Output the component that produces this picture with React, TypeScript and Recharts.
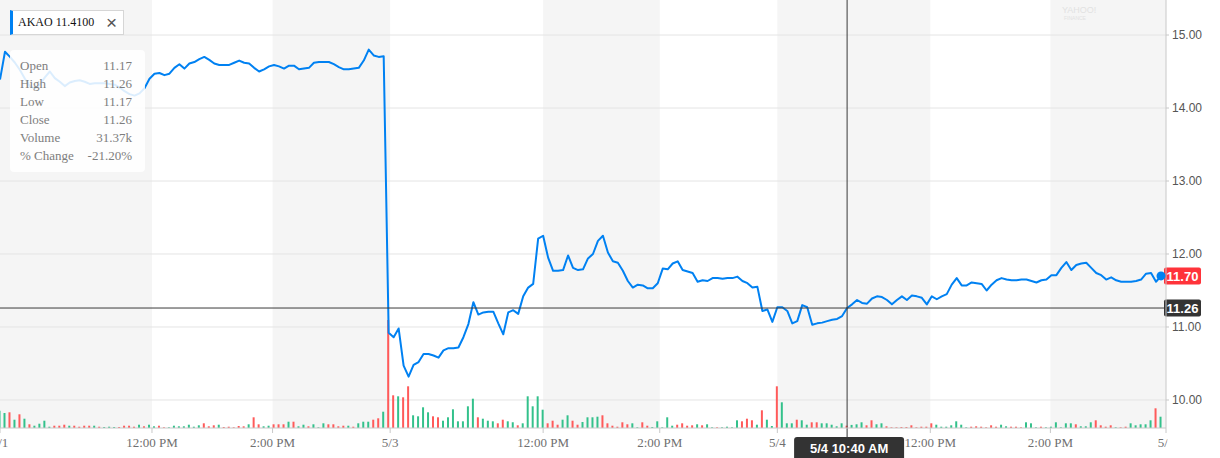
import React from 'react';
import {
  ComposedChart,
  Line,
  Bar,
  Cell,
  XAxis,
  YAxis,
  ReferenceArea,
  ReferenceLine,
  ReferenceDot,
} from 'recharts';

// ---- price, 5-minute points, one array per trading day ----
const day1Price = [
  14.39, 14.77, 14.7, 14.62, 14.52, 14.4, 14.3, 14.27, 14.32, 14.42,
  14.5, 14.41, 14.36, 14.3, 14.35, 14.37, 14.38, 14.36, 14.33, 14.34,
  14.34, 14.34, 14.33, 14.32, 14.28, 14.23, 14.19, 14.17, 14.2, 14.27,
  14.4, 14.47, 14.48, 14.45, 14.47, 14.55, 14.6, 14.54, 14.61, 14.63,
  14.67, 14.7, 14.66, 14.61, 14.59, 14.59, 14.59, 14.62, 14.65, 14.62,
  14.61, 14.55, 14.5, 14.53, 14.57, 14.59, 14.57, 14.54, 14.58, 14.58,
  14.53, 14.54, 14.55, 14.62, 14.63, 14.63, 14.63, 14.6, 14.56, 14.53,
  14.53, 14.54, 14.55, 14.65, 14.8, 14.72, 14.7, 14.71,
];
const day2Price = [
  10.92, 10.86, 10.98, 10.47, 10.32, 10.48, 10.52, 10.63, 10.63, 10.61,
  10.58, 10.68, 10.71, 10.71, 10.72, 10.86, 11.04, 11.34, 11.17, 11.2,
  11.21, 11.21, 11.05, 10.9, 11.2, 11.23, 11.18, 11.42, 11.54, 11.59,
  12.21, 12.25, 11.95, 11.77, 11.77, 11.78, 11.98, 11.81, 11.78, 11.79,
  11.94, 12.0, 12.18, 12.25, 12.02, 11.9, 11.88, 11.77, 11.63, 11.54,
  11.58, 11.57, 11.53, 11.53, 11.6, 11.8, 11.79, 11.87, 11.9, 11.78,
  11.76, 11.74, 11.62, 11.64, 11.63, 11.67, 11.67, 11.66, 11.67, 11.67,
  11.69, 11.63, 11.6, 11.54, 11.55, 11.22, 11.24, 11.07,
];
const day3Price = [
  11.27, 11.27, 11.22, 11.05, 11.08, 11.3, 11.27, 11.03, 11.05, 11.06,
  11.08, 11.1, 11.11, 11.15, 11.26, 11.31, 11.37, 11.33, 11.32, 11.39,
  11.42, 11.41, 11.37, 11.31, 11.37, 11.42, 11.37, 11.43, 11.42, 11.4,
  11.31, 11.42, 11.38, 11.42, 11.45, 11.58, 11.67, 11.57, 11.57, 11.61,
  11.6, 11.59, 11.5, 11.58, 11.64, 11.67, 11.65, 11.64, 11.64, 11.65,
  11.65, 11.63, 11.61, 11.64, 11.65, 11.71, 11.71, 11.81, 11.89, 11.78,
  11.85, 11.87, 11.88, 11.81, 11.74, 11.71, 11.65, 11.68, 11.64, 11.62,
  11.62, 11.62, 11.63, 11.65, 11.73, 11.74, 11.62, 11.7,
];

// ---- volume (thousands of shares) and bar direction (1 = up, 0 = down) ----
const day1Volume = [
  173, 150, 157, 83, 137, 93, 37, 23, 43, 73,
  13, 23, 23, 33, 23, 23, 13, 23, 23, 23,
  13, 10, 13, 10, 10, 23, 23, 13, 33, 17,
  33, 17, 23, 7, 7, 23, 17, 17, 33, 13,
  27, 47, 17, 27, 33, 10, 13, 7, 20, 17,
  37, 107, 37, 17, 23, 37, 37, 37, 63, 63,
  17, 33, 17, 37, 7, 47, 37, 37, 17, 23,
  23, 13, 47, 63, 63, 83, 97, 163,
];
const day1Up = [
  1, 1, 0, 1, 0, 1, 0, 1, 1, 1,
  1, 0, 0, 0, 1, 0, 0, 0, 0, 1,
  0, 1, 1, 1, 0, 0, 0, 0, 1, 0,
  1, 1, 0, 0, 1, 1, 1, 1, 1, 1,
  1, 0, 0, 0, 1, 0, 0, 0, 0, 0,
  1, 0, 0, 1, 1, 0, 0, 0, 1, 0,
  1, 1, 0, 1, 1, 1, 0, 0, 0, 0,
  1, 0, 1, 1, 1, 0, 0, 1,
];
const day2Volume = [
  1080, 327, 317, 307, 417, 127, 117, 207, 157, 117,
  107, 73, 107, 187, 67, 67, 217, 293, 107, 93,
  73, 67, 47, 83, 67, 57, 27, 47, 317, 217,
  317, 183, 47, 73, 33, 83, 127, 73, 33, 60,
  107, 107, 113, 127, 47, 23, 13, 57, 37, 47,
  7, 57, 23, 10, 67, 7, 107, 23, 33, 47,
  23, 27, 37, 27, 37, 7, 7, 7, 13, 7,
  77, 67, 93, 77, 33, 177, 83, 20,
];
const day2Up = [
  0, 0, 1, 0, 0, 1, 1, 1, 1, 0,
  0, 1, 1, 1, 1, 1, 1, 1, 0, 1,
  1, 1, 0, 0, 1, 1, 0, 1, 1, 1,
  1, 1, 0, 0, 0, 1, 1, 0, 0, 1,
  1, 1, 1, 0, 0, 0, 0, 0, 0, 1,
  1, 0, 0, 1, 1, 1, 1, 1, 0, 0,
  0, 0, 1, 0, 1, 1, 0, 1, 1, 1,
  1, 0, 0, 0, 1, 0, 1, 1,
];
const day3Volume = [
  417, 257, 47, 47, 83, 77, 33, 57, 57, 47,
  47, 33, 17, 47, 23, 31, 37, 57, 27, 77,
  37, 47, 17, 7, 7, 10, 10, 27, 7, 13,
  13, 47, 33, 13, 13, 27, 67, 33, 7, 13,
  17, 13, 7, 27, 13, 33, 17, 13, 13, 7,
  57, 47, 7, 13, 7, 13, 57, 7, 47, 47,
  37, 17, 17, 57, 77, 27, 13, 27, 7, 7,
  13, 47, 27, 37, 37, 77, 197, 113,
];
const day3Up = [
  0, 1, 1, 1, 0, 1, 1, 0, 0, 1,
  1, 1, 1, 1, 0, 1, 1, 1, 0, 0,
  1, 1, 0, 0, 0, 0, 0, 0, 0, 0,
  0, 0, 1, 1, 1, 1, 1, 1, 1, 0,
  0, 0, 0, 0, 0, 1, 1, 0, 0, 0,
  1, 1, 1, 0, 1, 1, 1, 1, 1, 1,
  0, 1, 1, 1, 0, 0, 0, 0, 1, 0,
  0, 1, 1, 1, 1, 1, 0, 1,
];

// ---- axes ----
const xTickValues = [0, 30.5, 54.7, 78.3, 109, 132.4, 156, 186.7, 210.8, 234];
const xTickLabels = ['5/1', '12:00 PM', '2:00 PM', '5/3', '12:00 PM', '2:00 PM', '5/4', '12:00 PM', '2:00 PM', '5/5'];
const yTicks = [10, 11, 12, 13, 14, 15];

// ---- legend / tooltip / crosshair ----
const symbol = 'AKAO';
const symbolValue = '11.4100';
const tooltipLabels = ['Open', 'High', 'Low', 'Close', 'Volume', '% Change'];
const tooltipValues = ['11.17', '11.26', '11.17', '11.26', '31.37k', '-21.20%'];
const crosshairIndex = 170;
const crosshairPrice = 11.26;
const crosshairTime = '5/4 10:40 AM';
const lastIndex = 233;
const lastPrice = 11.7;

const prices = [...day1Price, ...day2Price, ...day3Price];
const volumes = [...day1Volume, ...day2Volume, ...day3Volume];
const ups = [...day1Up, ...day2Up, ...day3Up];
const data = prices.map((p, i) => ({ i, price: p, vol: volumes[i], up: ups[i] }));

const bands = xTickValues.slice(0, -1).map((v, k) => ({ x1: v, x2: xTickValues[k + 1], gray: k % 2 === 0 }));

const SERIF = '"Liberation Serif", "Times New Roman", serif';
const SANS = '"Liberation Sans", Arial, sans-serif';
const BLUE = '#0081f2';
const GREEN = '#33c18b';
const RED = '#ff5a5a';

const XTick = (props: any) => {
  const { x, y, payload } = props;
  const k = xTickValues.indexOf(payload.value);
  return (
    <g clipPath="url(#xtickclip)">
      <text x={x} y={y} dy="0.71em" textAnchor="middle" fill="#6f6f6f" fontSize={13} fontFamily={SERIF}>
        {k >= 0 ? xTickLabels[k] : ''}
      </text>
    </g>
  );
};

const YTag = (props: any) => {
  const vb = props.viewBox;
  if (!vb) return null;
  const x = vb.x + vb.width;
  const y = vb.y;
  return (
    <g>
      <rect x={x - 2} y={y - 8.5} width={37} height={17} rx={2} fill={props.bg} />
      <text x={x + 16.5} y={y} dy="0.36em" textAnchor="middle" fill="#fff" fontSize={13} fontWeight="bold" fontFamily={SANS}>
        {props.text}
      </text>
    </g>
  );
};

const XTag = (props: any) => {
  const vb = props.viewBox;
  if (!vb) return null;
  const cx = vb.x;
  const bottom = vb.y + vb.height;
  return (
    <g>
      <line x1={cx} x2={cx} y1={bottom} y2={bottom + 10} stroke="#333" />
      <rect x={cx - 53} y={bottom + 9} width={110} height={26} rx={3} fill="#333" />
      <text x={cx + 2} y={bottom + 20} dy="0.36em" textAnchor="middle" fill="#fff" fontSize={13} fontWeight="bold" fontFamily={SANS}>
        {props.text}
      </text>
    </g>
  );
};

export default function App() {
  return (
    <div style={{ position: 'absolute', left: 0, top: 0, width: 1220, height: 458, overflow: 'hidden', background: '#fff' }}>
      <ComposedChart width={1220} height={458} data={data} margin={{ top: 0, right: 0, bottom: 0, left: 0 }}>
        <defs>
          <clipPath id="xtickclip">
            <rect x={-60} y={0} width={1227.5} height={458} />
          </clipPath>
        </defs>
        {bands.map((b, k) =>
          b.gray ? (
            <ReferenceArea
              key={k}
              x1={b.x1}
              x2={b.x2}
              yAxisId="price"
              fill="#f5f5f5"
              fillOpacity={1}
              stroke="none"
              ifOverflow="visible"
              zIndex={-150}
            />
          ) : null
        )}
        {yTicks.map((t) => (
          <ReferenceLine key={`g${t}`} yAxisId="price" y={t} stroke="#e4e4e4" strokeWidth={1} zIndex={-120} />
        ))}
        <XAxis
          dataKey="i"
          type="number"
          domain={[0, 234]}
          ticks={xTickValues}
          interval={0}
          allowDataOverflow
          height={30}
          tick={<XTick />}
          tickSize={5}
          tickMargin={5}
          axisLine={{ stroke: '#c8c8c8' }}
          tickLine={{ stroke: '#c8c8c8' }}
        />
        <YAxis
          yAxisId="price"
          orientation="right"
          width={54}
          domain={[9.6164, 15.4795]}
          ticks={yTicks}
          allowDataOverflow
          tickFormatter={(v: number) => v.toFixed(2)}
          tick={{ fontSize: 12, fill: '#555', fontFamily: SANS }}
          tickSize={3}
          tickMargin={3}
          axisLine={{ stroke: '#c8c8c8' }}
          tickLine={{ stroke: '#c8c8c8' }}
        />
        <YAxis yAxisId="vol" hide domain={[0, 4280]} allowDataOverflow />
        <Bar dataKey="vol" yAxisId="vol" barSize={2} isAnimationActive={false}>
          {data.map((d) => (
            <Cell key={d.i} fill={d.up ? GREEN : RED} />
          ))}
        </Bar>
        <Line
          type="linear"
          dataKey="price"
          yAxisId="price"
          stroke={BLUE}
          strokeWidth={2}
          strokeLinejoin="round"
          dot={false}
          activeDot={false}
          isAnimationActive={false}
        />
        <ReferenceLine
          yAxisId="price"
          y={crosshairPrice}
          stroke="#3a3a3a"
          strokeWidth={1}
          label={(p: any) => <YTag {...p} text={crosshairPrice.toFixed(2)} bg="#333" />}
        />
        <ReferenceLine
          yAxisId="price"
          x={crosshairIndex}
          stroke="#3a3a3a"
          strokeWidth={1}
          label={(p: any) => <XTag {...p} text={crosshairTime} />}
        />
        <ReferenceLine
          yAxisId="price"
          y={lastPrice}
          stroke="none"
          label={(p: any) => <YTag {...p} text={lastPrice.toFixed(2)} bg="#ff333a" />}
        />
        <ReferenceDot yAxisId="price" x={lastIndex} y={lastPrice} r={4.5} fill={BLUE} stroke="none" />
      </ComposedChart>

      {/* watermark */}
      <div style={{ position: 'absolute', left: 1062, top: 6, fontFamily: SANS, fontSize: 9, color: '#e2e2e2', lineHeight: '9px' }}>
        YAHOO!
        <div style={{ fontSize: 5, lineHeight: '6px', paddingLeft: 2 }}>FINANCE</div>
      </div>

      {/* legend chip */}
      <div
        style={{
          position: 'absolute',
          left: 10,
          top: 10,
          width: 110,
          height: 23,
          background: '#fff',
          border: '1px solid #d6d6d6',
          borderLeft: `3px solid ${BLUE}`,
          fontFamily: SERIF,
          fontSize: 12,
          color: '#111',
          display: 'flex',
          alignItems: 'center',
          boxSizing: 'content-box',
        }}
      >
        <span style={{ marginLeft: 5 }}>{symbol} {symbolValue}</span>
        <span style={{ position: 'absolute', left: 93, top: 1, fontFamily: SANS, fontSize: 19, fontWeight: 300, color: '#555' }}>×</span>
      </div>

      {/* hover info panel */}
      <div
        style={{
          position: 'absolute',
          left: 10,
          top: 50,
          width: 135,
          height: 122,
          background: 'rgba(255,255,255,0.86)',
          borderRadius: 4,
          fontFamily: SERIF,
          fontSize: 13,
          color: '#7d7d7d',
          boxSizing: 'border-box',
          padding: '7px 13px 0 10px',
        }}
      >
        {tooltipLabels.map((l, k) => (
          <div key={l} style={{ display: 'flex', justifyContent: 'space-between', height: 18, lineHeight: '18px' }}>
            <span>{l}</span>
            <span>{tooltipValues[k]}</span>
          </div>
        ))}
      </div>
    </div>
  );
}
